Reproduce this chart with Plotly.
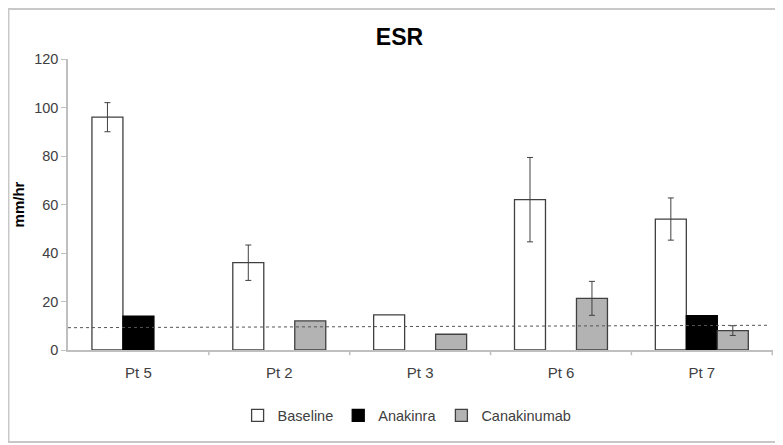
import numpy as np
import plotly.graph_objects as go

patients = ["Pt 5", "Pt 2", "Pt 3", "Pt 6", "Pt 7"]
baseline = [96, 36, 14.5, 62, 54]
baseline_err = [6, 7.3, None, 17.4, 8.7]
anakinra = [14, None, None, None, 14.2]
canakinumab = [None, 12, 6.5, 21.3, 8]
canakinumab_err = [None, None, None, 7, 2]
ref_x = [0, 0.995]
ref_y = [9.2, 10.2]

edge = "#404040"
fig = go.Figure()
fig.add_bar(name="Baseline", x=patients, y=baseline,
            marker=dict(color="white", line=dict(color=edge, width=1.3)),
            error_y=dict(type="data", array=np.array(baseline_err, dtype=float),
                         visible=True, color=edge, thickness=1, width=3))
fig.add_bar(name="Anakinra", x=patients, y=anakinra,
            marker=dict(color="black", line=dict(color="black", width=1.3)))
fig.add_bar(name="Canakinumab", x=patients, y=canakinumab,
            marker=dict(color="#b3b3b3", line=dict(color=edge, width=1.3)),
            error_y=dict(type="data", array=np.array(canakinumab_err, dtype=float),
                         visible=True, color=edge, thickness=1, width=3))
fig.add_scatter(x=ref_x, y=ref_y, xaxis="x2", mode="lines", showlegend=False,
                line=dict(color="#555555", width=1, dash="dot"), hoverinfo="skip")

fig.update_layout(
    width=783, height=445,
    margin=dict(l=60, r=18, t=51, b=103),
    paper_bgcolor="white", plot_bgcolor="white",
    barmode="group", bargap=0.34, bargroupgap=0,
    font=dict(family="Liberation Sans, Arial, sans-serif", size=14, color="#404040"),
    title=dict(text="<b>ESR</b>", x=0.5, xanchor="center", y=0.935, yanchor="middle",
               font=dict(size=23, color="black")),
    showlegend=True,
    legend=dict(orientation="h", x=0.481, xanchor="center", y=-0.225, yanchor="middle",
                font=dict(size=14.5, color="#404040"), itemwidth=30, traceorder="normal"),
    xaxis=dict(type="category", showline=True, linecolor="#bfbfbf", linewidth=1.5,
               ticks="", showgrid=False, tickfont=dict(size=15, color="#404040"),
               zeroline=False, automargin=False, ticklabelstandoff=8),
    xaxis2=dict(overlaying="x", range=[0, 1], visible=False),
    yaxis=dict(range=[0, 120], dtick=20, showline=True, linecolor="#bfbfbf",
               linewidth=1.5, ticks="outside", ticklen=5, tickcolor="#bfbfbf",
               showgrid=False, zeroline=False, automargin=False,
               tickfont=dict(size=14.5, color="#404040"),
               title=dict(text="<b>mm/hr</b>", font=dict(size=15, color="black"),
                          standoff=6)),
    shapes=[dict(type="rect", xref="paper", yref="paper", x0=-0.0844, x1=1.1,
                 y0=-0.316, y1=1.172, line=dict(color="#c8c8c8", width=2),
                 fillcolor="rgba(0,0,0,0)", layer="below")],
)

# category boundary ticks on x axis
for i in range(1, len(patients) + 1):
    fig.add_shape(type="line", xref="x", yref="paper", x0=i - 0.5, x1=i - 0.5,
                  y0=0, y1=-0.018, line=dict(color="#bfbfbf", width=1.5))

fig.write_html("out.html")
